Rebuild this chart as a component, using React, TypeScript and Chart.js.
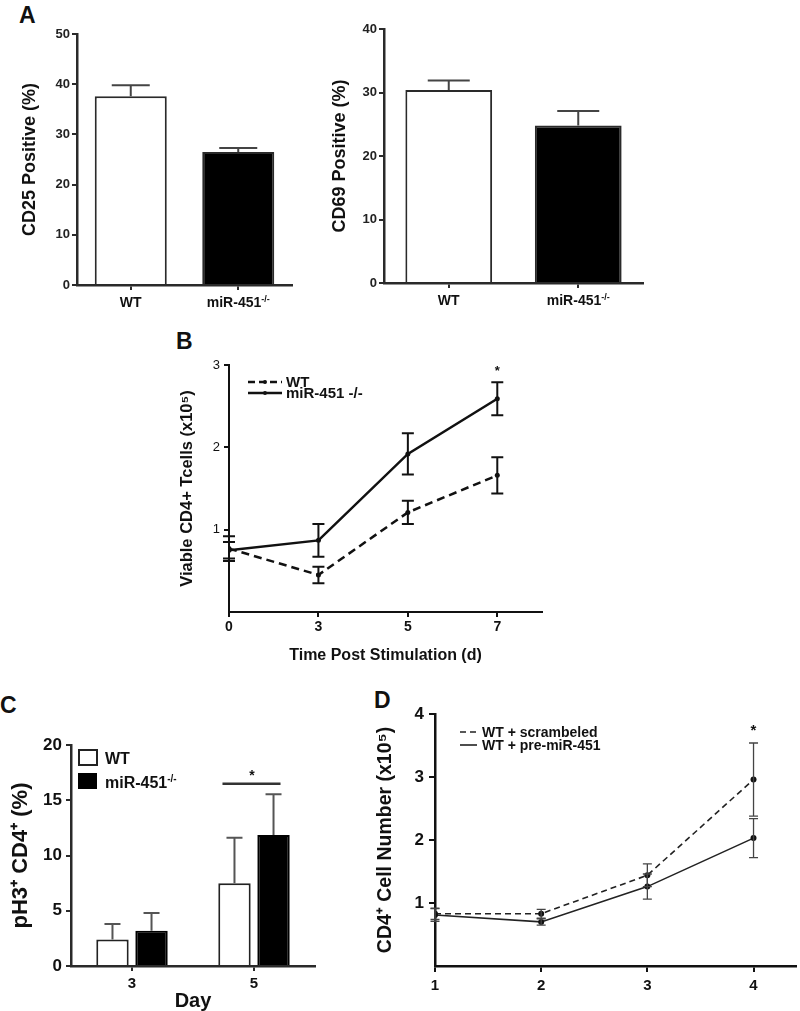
import React, { useEffect, useRef } from 'react';
import { Chart, registerables } from 'chart.js';
Chart.register(...registerables);

// ---------- Panel A data ----------
const aCategories = ['WT', 'miR-451'];
const aCategorySup = ['', '-/-'];
const cd25Values = [37.6, 26.5];
const cd25Errors = [2.2, 0.8];
const cd69Values = [30.4, 24.8];
const cd69Errors = [1.5, 2.3];

// ---------- Panel B data ----------
const bDayLabels = ['0', '3', '5', '7'];
const bYTicks = [1, 2, 3];
const bWT = [0.77, 0.45, 1.21, 1.66];
const bWTErr = [0.15, 0.1, 0.14, 0.22];
const bMiR = [0.75, 0.87, 1.92, 2.59];
const bMiRErr = [0.1, 0.2, 0.25, 0.2];

// ---------- Panel C data ----------
const cDays = ['3', '5'];
const cWT = [2.4, 7.5];
const cWTErr = [1.4, 4.1];
const cMiR = [3.2, 11.85];
const cMiRErr = [1.6, 3.7];
const cSigLevel = 16.5;

// ---------- Panel D data ----------
const dDays = [1, 2, 3, 4];
const dYTicks = [1, 2, 3, 4];
const dScr = [0.83, 0.83, 1.44, 2.96];
const dScrErr = [0.09, 0.07, 0.18, 0.58];
const dPre = [0.81, 0.7, 1.26, 2.03];
const dPreErr = [0.1, 0.05, 0.2, 0.31];

const FONT = '"Liberation Sans", Arial, Helvetica, sans-serif';
const NARROW = '"Liberation Sans Narrow", "Liberation Sans", Arial, sans-serif';
const AX = '#2a2a2a';

type Part = { t: string; sup?: boolean };
function drawRich(ctx: CanvasRenderingContext2D, x: number, y: number, parts: Part[], size: number, align: 'left' | 'center') {
  const f = (s: number) => `bold ${s}px ${FONT}`;
  let total = 0;
  parts.forEach((p) => {
    ctx.font = f(p.sup ? Math.round(size * 0.62) : size);
    total += ctx.measureText(p.t).width;
  });
  let cx = align === 'center' ? x - total / 2 : x;
  ctx.textAlign = 'left';
  ctx.textBaseline = 'alphabetic';
  parts.forEach((p) => {
    ctx.font = f(p.sup ? Math.round(size * 0.62) : size);
    ctx.fillText(p.t, cx, p.sup ? y - size * 0.38 : y);
    cx += ctx.measureText(p.t).width;
  });
}

type ErrOpts = { errors: number[][]; upOnly?: boolean; cap: number; color: string; width: number };
function errorBars(o: ErrOpts) {
  return {
    id: 'errorBars',
    afterDatasetsDraw(chart: any) {
      const ctx = chart.ctx;
      const ys = chart.scales.y;
      ctx.save();
      ctx.strokeStyle = o.color;
      ctx.lineWidth = o.width;
      ctx.setLineDash([]);
      o.errors.forEach((errs, di) => {
        const meta = chart.getDatasetMeta(di);
        const ds = chart.data.datasets[di];
        meta.data.forEach((el: any, i: number) => {
          const raw = ds.data[i];
          const v = typeof raw === 'number' ? raw : raw.y;
          const e = errs[i];
          const x = el.x;
          const yHi = ys.getPixelForValue(v + e);
          const yLo = ys.getPixelForValue(o.upOnly ? v : v - e);
          ctx.beginPath();
          ctx.moveTo(x, yLo);
          ctx.lineTo(x, yHi);
          ctx.moveTo(x - o.cap, yHi);
          ctx.lineTo(x + o.cap, yHi);
          if (!o.upOnly) {
            ctx.moveTo(x - o.cap, yLo);
            ctx.lineTo(x + o.cap, yLo);
          }
          ctx.stroke();
        });
      });
      ctx.restore();
    },
  };
}

function richXLabels(size: number, offsetY: number) {
  return {
    id: 'richX',
    afterDraw(chart: any) {
      const ctx = chart.ctx;
      const xs = chart.scales.x;
      ctx.save();
      ctx.fillStyle = '#111';
      aCategories.forEach((c, i) => {
        const x = xs.getPixelForTick(i);
        drawRich(ctx, x, chart.chartArea.bottom + offsetY, [{ t: c }, { t: aCategorySup[i], sup: true }], size, 'center');
      });
      ctx.restore();
    },
  };
}

function makeA(values: number[], errors: number[], title: string, yMax: number, yWidth: number, titlePad: number, padTop: number, padRight: number, xHeight: number, cap: number) {
  return {
    type: 'bar',
    data: {
      labels: aCategories,
      datasets: [
        {
          data: values,
          backgroundColor: ['#ffffff', '#000000'],
          borderColor: AX,
          borderWidth: 2,
          borderSkipped: 'start',
          barPercentage: 0.67,
          categoryPercentage: 1,
        },
      ],
    },
    options: {
      responsive: false,
      animation: false,
      layout: { padding: { top: padTop, right: padRight, left: 0, bottom: 0 } },
      plugins: { legend: { display: false }, tooltip: { enabled: false } },
      scales: {
        x: {
          offset: true,
          grid: { display: true, offset: false, drawOnChartArea: false, drawTicks: true, tickLength: 5, color: AX, lineWidth: 2 },
          border: { display: true, color: AX, width: 2.5 },
          ticks: { display: false },
          afterFit: (s: any) => { s.height = xHeight; },
        },
        y: {
          min: 0,
          max: yMax,
          ticks: { stepSize: 10, font: { family: NARROW, size: 13, weight: 'bold' }, color: '#222', padding: 2 },
          grid: { drawOnChartArea: false, tickLength: 5, color: AX, lineWidth: 2 },
          border: { color: AX, width: 2.5 },
          title: { display: true, text: title, font: { family: FONT, size: 18, weight: 'bold' }, padding: { top: titlePad, bottom: 0 }, color: '#111' },
          afterFit: (s: any) => { s.width = yWidth; },
        },
      },
    },
    plugins: [errorBars({ errors: [errors], upOnly: true, cap, color: '#444', width: 2 }), richXLabels(14, 22)],
  };
}

function makeB() {
  return {
    type: 'line',
    data: {
      datasets: [
        {
          label: 'WT',
          data: bWT.map((y, i) => ({ x: i, y })),
          borderColor: '#111',
          borderWidth: 2.5,
          borderDash: [8, 5],
          pointRadius: 2.5,
          pointBackgroundColor: '#111',
          pointBorderWidth: 0,
          tension: 0,
          fill: false,
        },
        {
          label: 'miR-451 -/-',
          data: bMiR.map((y, i) => ({ x: i, y })),
          borderColor: '#111',
          borderWidth: 2.5,
          pointRadius: 2.5,
          pointBackgroundColor: '#111',
          pointBorderWidth: 0,
          tension: 0,
          fill: false,
        },
      ],
    },
    options: {
      responsive: false,
      animation: false,
      layout: { padding: { top: 45, right: 38, left: 0, bottom: 0 } },
      plugins: { legend: { display: false }, tooltip: { enabled: false } },
      scales: {
        x: {
          type: 'linear',
          min: 0,
          max: 3.5,
          afterBuildTicks: (s: any) => { s.ticks = bDayLabels.map((_, i) => ({ value: i })); },
          ticks: { callback: (v: number) => bDayLabels[Math.round(v)], font: { family: FONT, size: 14, weight: 'bold' }, color: '#111', padding: 2 },
          grid: { drawOnChartArea: false, tickLength: 5, color: '#111', lineWidth: 2 },
          border: { color: '#111', width: 2 },
          title: { display: true, text: 'Time Post Stimulation (d)', font: { family: FONT, size: 16, weight: 'bold' }, padding: { top: 0, bottom: 5 }, color: '#111' },
          afterFit: (s: any) => { s.height = 58; },
        },
        y: {
          min: 0,
          max: 3,
          afterBuildTicks: (s: any) => { s.ticks = bYTicks.map((v) => ({ value: v })); },
          ticks: { font: { family: FONT, size: 13 }, color: '#111', padding: 4 },
          grid: { drawOnChartArea: false, tickLength: 5, color: '#111', lineWidth: 2 },
          border: { color: '#111', width: 2 },
          title: { display: true, text: 'Viable CD4+ Tcells (x10\u2075)', font: { family: FONT, size: 16.5, weight: 'bold' }, padding: { top: 18, bottom: 0 }, color: '#111' },
          afterFit: (s: any) => { s.width = 69; },
        },
      },
    },
    plugins: [
      errorBars({ errors: [bWTErr, bMiRErr], cap: 6, color: '#111', width: 2 }),
      {
        id: 'bExtras',
        afterDraw(chart: any) {
          const ctx = chart.ctx;
          const a = chart.chartArea;
          const xs = chart.scales.x;
          const ys = chart.scales.y;
          ctx.save();
          ctx.strokeStyle = '#111';
          ctx.fillStyle = '#111';
          ctx.lineWidth = 2.5;
          const lx = a.left + 19;
          const rows = [
            { label: chart.data.datasets[0].label, y: a.top + 17, dash: [7, 4] },
            { label: chart.data.datasets[1].label, y: a.top + 28, dash: [] as number[] },
          ];
          rows.forEach((r) => {
            ctx.setLineDash(r.dash);
            ctx.beginPath();
            ctx.moveTo(lx, r.y);
            ctx.lineTo(lx + 34, r.y);
            ctx.stroke();
            ctx.setLineDash([]);
            ctx.beginPath();
            ctx.arc(lx + 17, r.y, 2, 0, Math.PI * 2);
            ctx.fill();
            ctx.font = `bold 15px ${FONT}`;
            ctx.textBaseline = 'middle';
            ctx.textAlign = 'left';
            ctx.fillText(r.label, lx + 38, r.y + 1);
          });
          const last = bMiR.length - 1;
          ctx.font = `bold 13px ${FONT}`;
          ctx.textAlign = 'center';
          ctx.textBaseline = 'middle';
          ctx.fillText('*', xs.getPixelForValue(last), ys.getPixelForValue(bMiR[last] + bMiRErr[last]) - 11);
          ctx.restore();
        },
      },
    ],
  };
}

function makeC() {
  return {
    type: 'bar',
    data: {
      labels: cDays,
      datasets: [
        { label: 'WT', data: cWT, backgroundColor: '#ffffff', borderColor: '#222', borderWidth: 2, borderSkipped: 'start', barPercentage: 0.83, categoryPercentage: 0.64 },
        { label: 'miR-451', data: cMiR, backgroundColor: '#000000', borderColor: '#000', borderWidth: 2, borderSkipped: 'start', barPercentage: 0.83, categoryPercentage: 0.64 },
      ],
    },
    options: {
      responsive: false,
      animation: false,
      layout: { padding: { top: 65, right: 25, left: 0, bottom: 0 } },
      plugins: { legend: { display: false }, tooltip: { enabled: false } },
      scales: {
        x: {
          offset: true,
          grid: { offset: false, drawOnChartArea: false, tickLength: 5, color: AX, lineWidth: 2 },
          border: { color: AX, width: 2.5 },
          ticks: { font: { family: FONT, size: 15, weight: 'bold' }, color: '#111', padding: 4 },
          title: { display: true, text: 'Day', font: { family: FONT, size: 20, weight: 'bold', lineHeight: 1 }, padding: { top: 0, bottom: 0 }, color: '#111' },
          afterFit: (s: any) => { s.height = 45; },
        },
        y: {
          min: 0,
          max: 20,
          ticks: { stepSize: 5, font: { family: FONT, size: 17, weight: 'bold' }, color: '#111', padding: 4 },
          grid: { drawOnChartArea: false, tickLength: 5, color: AX, lineWidth: 2 },
          border: { color: AX, width: 2.5 },
          title: { display: true, text: 'pH3\u207A CD4\u207A (%)', font: { family: FONT, size: 22, weight: 'bold' }, padding: { top: 8, bottom: 0 }, color: '#111' },
          afterFit: (s: any) => { s.width = 71; },
        },
      },
    },
    plugins: [
      errorBars({ errors: [cWTErr, cMiRErr], upOnly: true, cap: 8, color: '#555', width: 2 }),
      {
        id: 'cExtras',
        afterDraw(chart: any) {
          const ctx = chart.ctx;
          const a = chart.chartArea;
          const ys = chart.scales.y;
          ctx.save();
          const bx = a.left + 8;
          ctx.lineWidth = 2;
          ctx.strokeStyle = '#222';
          ctx.fillStyle = '#fff';
          ctx.fillRect(bx, a.top + 5, 18, 15);
          ctx.strokeRect(bx, a.top + 5, 18, 15);
          ctx.fillStyle = '#000';
          ctx.fillRect(bx - 1, a.top + 28, 19, 16);
          ctx.fillStyle = '#111';
          drawRich(ctx, bx + 26, a.top + 19, [{ t: chart.data.datasets[0].label }], 16, 'left');
          drawRich(ctx, bx + 26, a.top + 43, [{ t: chart.data.datasets[1].label }, { t: '-/-', sup: true }], 16, 'left');
          const wt = chart.getDatasetMeta(0).data[1];
          const mi = chart.getDatasetMeta(1).data[1];
          const y = ys.getPixelForValue(cSigLevel);
          ctx.strokeStyle = '#333';
          ctx.lineWidth = 2.5;
          ctx.beginPath();
          ctx.moveTo(wt.x - 12, y);
          ctx.lineTo(mi.x + 7, y);
          ctx.stroke();
          ctx.font = `bold 14px ${FONT}`;
          ctx.textAlign = 'center';
          ctx.textBaseline = 'middle';
          ctx.fillText('*', (wt.x + mi.x) / 2 - 2, y - 8);
          ctx.restore();
        },
      },
    ],
  };
}

function makeD() {
  return {
    type: 'line',
    data: {
      datasets: [
        {
          label: 'WT + scrambeled',
          data: dScr.map((y, i) => ({ x: dDays[i], y })),
          borderColor: '#222',
          borderWidth: 1.6,
          borderDash: [6, 4],
          pointRadius: 3,
          pointBackgroundColor: '#111',
          pointBorderWidth: 0,
          tension: 0,
        },
        {
          label: 'WT + pre-miR-451',
          data: dPre.map((y, i) => ({ x: dDays[i], y })),
          borderColor: '#222',
          borderWidth: 1.6,
          pointRadius: 3,
          pointBackgroundColor: '#111',
          pointBorderWidth: 0,
          tension: 0,
        },
      ],
    },
    options: {
      responsive: false,
      animation: false,
      layout: { padding: { top: 34, right: 0, left: 0, bottom: 0 } },
      plugins: { legend: { display: false }, tooltip: { enabled: false } },
      scales: {
        x: {
          type: 'linear',
          min: 1,
          max: 4.4,
          afterBuildTicks: (s: any) => { s.ticks = dDays.map((v) => ({ value: v })); },
          ticks: { font: { family: FONT, size: 15, weight: 'bold' }, color: '#111', padding: 5 },
          grid: { drawOnChartArea: false, tickLength: 6, color: '#111', lineWidth: 2 },
          border: { color: '#111', width: 2.5 },
          afterFit: (s: any) => { s.height = 45; },
        },
        y: {
          min: 0,
          max: 4,
          afterBuildTicks: (s: any) => { s.ticks = dYTicks.map((v) => ({ value: v })); },
          ticks: { font: { family: FONT, size: 17, weight: 'bold' }, color: '#111', padding: 5 },
          grid: { drawOnChartArea: false, tickLength: 6, color: '#111', lineWidth: 2 },
          border: { color: '#111', width: 2.5 },
          title: { display: true, text: 'CD4\u207A Cell Number (x10\u2075)', font: { family: FONT, size: 19.5, weight: 'bold' }, padding: { top: 13.5, bottom: 0 }, color: '#111' },
          afterFit: (s: any) => { s.width = 75; },
        },
      },
    },
    plugins: [
      errorBars({ errors: [dScrErr, dPreErr], cap: 4.5, color: '#444', width: 1.3 }),
      {
        id: 'dExtras',
        afterDraw(chart: any) {
          const ctx = chart.ctx;
          const a = chart.chartArea;
          const xs = chart.scales.x;
          const ys = chart.scales.y;
          ctx.save();
          ctx.strokeStyle = '#222';
          ctx.fillStyle = '#111';
          ctx.lineWidth = 1.6;
          const lx = a.left + 25;
          const rows = [
            { label: chart.data.datasets[0].label, y: a.top + 18, dash: [6, 4] },
            { label: chart.data.datasets[1].label, y: a.top + 31, dash: [] as number[] },
          ];
          rows.forEach((r) => {
            ctx.setLineDash(r.dash);
            ctx.beginPath();
            ctx.moveTo(lx, r.y);
            ctx.lineTo(lx + 17, r.y);
            ctx.stroke();
            ctx.setLineDash([]);
            ctx.font = `bold 14px ${FONT}`;
            ctx.textBaseline = 'middle';
            ctx.textAlign = 'left';
            ctx.fillText(r.label, lx + 22, r.y + 1);
          });
          const last = dScr.length - 1;
          ctx.font = `bold 15px ${FONT}`;
          ctx.textAlign = 'center';
          ctx.textBaseline = 'middle';
          ctx.fillText('*', xs.getPixelForValue(dDays[last]), ys.getPixelForValue(dScr[last] + dScrErr[last]) - 12);
          ctx.restore();
        },
      },
    ],
  };
}

function ChartCanvas({ left, top, width, height, make }: { left: number; top: number; width: number; height: number; make: () => any }) {
  const ref = useRef<HTMLCanvasElement>(null);
  useEffect(() => {
    const chart = new Chart(ref.current as HTMLCanvasElement, make());
    return () => chart.destroy();
  }, []);
  return (
    <div style={{ position: 'absolute', left, top, width, height }}>
      <canvas ref={ref} width={width} height={height} style={{ width, height, display: 'block' }} />
    </div>
  );
}

function Letter({ ch, left, top }: { ch: string; left: number; top: number }) {
  return (
    <div style={{ position: 'absolute', left, top, fontSize: 23, fontWeight: 'bold', lineHeight: 1, fontFamily: FONT, color: '#111' }}>{ch}</div>
  );
}

export default function App() {
  return (
    <div style={{ position: 'absolute', left: 0, top: 0, width: 800, height: 1011, background: '#fff', overflow: 'hidden' }}>
      <Letter ch="A" left={19} top={4} />
      <Letter ch="B" left={176} top={330} />
      <Letter ch="C" left={0} top={694} />
      <Letter ch="D" left={374} top={689} />
      <ChartCanvas left={0} top={0} width={310} height={310} make={() => makeA(cd25Values, cd25Errors, 'CD25 Positive (%)', 50, 77, 19, 34, 18, 25, 19)} />
      <ChartCanvas left={320} top={0} width={340} height={310} make={() => makeA(cd69Values, cd69Errors, 'CD69 Positive (%)', 40, 64, 9, 29, 17, 27, 21)} />
      <ChartCanvas left={160} top={320} width={420} height={350} make={makeB} />
      <ChartCanvas left={0} top={680} width={340} height={331} make={makeC} />
      <ChartCanvas left={360} top={680} width={440} height={331} make={makeD} />
    </div>
  );
}
